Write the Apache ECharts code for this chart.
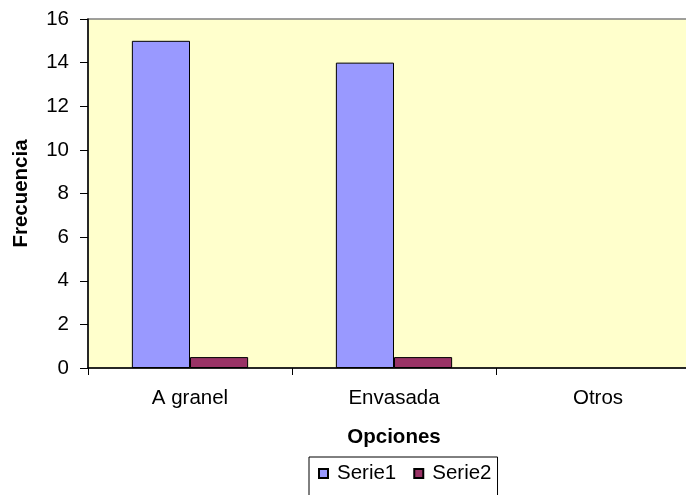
<!DOCTYPE html>
<html>
<head>
<meta charset="utf-8">
<script src="https://cdn.jsdelivr.net/npm/echarts@6/dist/echarts.min.js"></script>
<style>html,body{margin:0;padding:0;background:#fff;}#c{width:686px;height:495px;}</style>
</head>
<body>
<div id="c"></div>
<script>
var categories = ['A granel', 'Envasada', 'Otros'];
var serie1 = [15, 14, 0];
var serie2 = [0.5, 0.5, 0];
var yTicks = {min: 0, max: 16, interval: 2};

function toItems(arr) {
  return arr.map(function (v) {
    return v === 0 ? {value: v, itemStyle: {borderWidth: 0}} : v;
  });
}

var chart = echarts.init(document.getElementById('c'), null, {renderer: 'canvas'});
var font = 'Liberation Sans, Arial, sans-serif';
var fs = 20.5;
chart.setOption({
  animation: false,
  textStyle: {fontFamily: font},
  grid: {left: 88, top: 19, width: 612, height: 349, outerBoundsMode: 'none', containLabel: false,
         show: true, backgroundColor: '#FFFFCC', borderColor: '#808080', borderWidth: 1.5},
  legend: {
    data: ['Serie1', 'Serie2'],
    left: 309, top: 457,
    itemWidth: 9, itemHeight: 9, itemGap: 17,
    icon: 'rect',
    borderColor: '#000', borderWidth: 1, padding: [6, 6, 12, 9],
    textStyle: {fontSize: fs, color: '#000', fontFamily: font, padding: [0, 0, 0, 4]}
  },
  xAxis: {
    type: 'category', data: categories, z: 5,
    name: 'Opciones', nameLocation: 'middle', nameGap: 59,
    nameTextStyle: {fontSize: fs, fontWeight: 'bold', color: '#000', fontFamily: font},
    axisLine: {lineStyle: {color: '#000', width: 1.5}},
    axisTick: {show: true, length: 7, lineStyle: {color: '#000'}},
    axisLabel: {fontSize: fs, color: '#000', margin: 20, fontFamily: font}
  },
  yAxis: {
    type: 'value', min: yTicks.min, max: yTicks.max, interval: yTicks.interval, z: 5,
    name: 'Frecuencia', nameLocation: 'middle', nameGap: 56, nameRotate: 90,
    nameTextStyle: {fontSize: fs, fontWeight: 'bold', color: '#000', fontFamily: font},
    axisLine: {show: true, lineStyle: {color: '#000', width: 1.5}},
    axisTick: {show: true, length: 8, lineStyle: {color: '#000'}},
    axisLabel: {fontSize: fs, color: '#000', margin: 19, fontFamily: font},
    splitLine: {show: false}
  },
  series: [
    {name: 'Serie1', type: 'bar', data: toItems(serie1), barGap: '0%', barCategoryGap: '43%',
     itemStyle: {color: '#9999FF', borderColor: '#000', borderWidth: 1}},
    {name: 'Serie2', type: 'bar', data: toItems(serie2),
     itemStyle: {color: '#993366', borderColor: '#000', borderWidth: 1}}
  ]
});
</script>
</body>
</html>
